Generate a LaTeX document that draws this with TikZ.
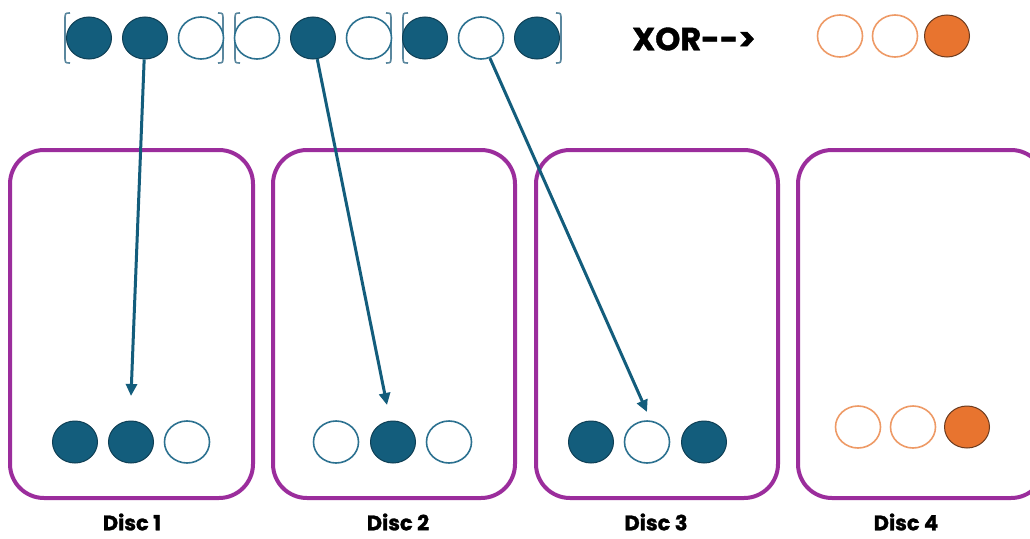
\documentclass[tikz,border=0pt]{standalone}
\usepackage{fontspec}
\newfontfamily\popb{Poppins}[BoldFeatures={FakeBold=1.2}]
\usetikzlibrary{arrows.meta,shapes.geometric}
\definecolor{bluefill}{HTML}{135D7C}
\definecolor{bluedark}{HTML}{0E3F55}
\definecolor{bluering}{HTML}{2C7190}
\definecolor{bracketc}{HTML}{5A879E}
\definecolor{orangef}{HTML}{E8742F}
\definecolor{oranger}{HTML}{EE9A66}
\definecolor{oranged}{HTML}{6B3A1E}
\definecolor{discc}{HTML}{9B2D9C}
\tikzset{
  bit/.style={ellipse,minimum width=45pt,minimum height=42pt,inner sep=0pt},
  one/.style={bit,fill=bluefill,draw=bluedark,line width=1pt},
  zero/.style={bit,fill=white,draw=bluering,line width=1.6pt},
  pone/.style={bit,fill=orangef,draw=oranged,line width=1pt},
  pzero/.style={bit,fill=white,draw=oranger,line width=1.6pt},
  disc/.style={draw=discc,line width=4pt,rounded corners=34pt},
  lbl/.style={font=\popb\bfseries\fontsize{21}{24}\selectfont,text=black,inner sep=0pt},
  brk/.style={draw=bracketc,line width=1.6pt},
  mv/.style={draw=bluefill,line width=3pt,-{Triangle[length=12pt,width=11pt]}}
}
\begin{document}
\begin{tikzpicture}[x=1pt,y=-1pt]
\clip (0,0) rectangle (1030,538);
\fill[white] (0,0) rectangle (1030,538);
% discs
\draw[disc] (10,150) rectangle (253,498);
\draw[disc] (273,150) rectangle (515,498);
\draw[disc] (536,150) rectangle (778,498);
\draw[disc] (798,150) rectangle (1045,498);
% brackets
\draw[brk] (70,13) .. controls (65,13) .. (65,20) -- (65,56) .. controls (65,63) .. (70,63);
\draw[brk] (218,13) .. controls (223,13) .. (223,20) -- (223,56) .. controls (223,63) .. (218,63);
\draw[brk] (240,13) .. controls (235,13) .. (235,20) -- (235,56) .. controls (235,63) .. (240,63);
\draw[brk] (386,13) .. controls (391,13) .. (391,20) -- (391,56) .. controls (391,63) .. (386,63);
\draw[brk] (408,13) .. controls (403,13) .. (403,20) -- (403,56) .. controls (403,63) .. (408,63);
\draw[brk] (556,13) .. controls (561,13) .. (561,20) -- (561,56) .. controls (561,63) .. (556,63);
% top row
\node[one]  (t1) at (89,38) {};
\node[one]  (t2) at (145,38) {};
\node[zero] (t3) at (201,38) {};
\node[zero] (t4) at (257,38) {};
\node[one]  (t5) at (313,38) {};
\node[zero] (t6) at (369,38) {};
\node[one]  (t7) at (425,38) {};
\node[zero] (t8) at (481,38) {};
\node[one]  (t9) at (537,38) {};
\node[font=\popb\bfseries\fontsize{32}{36}\selectfont,anchor=center] (xor) at (694,39) {XOR-{}->};
\node[pzero] (p1) at (840,36) {};
\node[pzero] (p2) at (895,36) {};
\node[pone]  (p3) at (947,36) {};
% disc contents
\node[one]  (a1) at (75,442) {};
\node[one]  (a2) at (131,442) {};
\node[zero] (a3) at (187,442) {};
\node[zero] (b1) at (336,442) {};
\node[one]  (b2) at (393,442) {};
\node[zero] (b3) at (449,442) {};
\node[one]  (c1) at (591,442) {};
\node[zero] (c2) at (647,442) {};
\node[one]  (c3) at (704,442) {};
\node[pzero] (d1) at (858,427) {};
\node[pzero] (d2) at (913,427) {};
\node[pone]  (d3) at (967,427) {};
% labels
\node[lbl] (l1) at (132,522) {Disc 1};
\node[lbl] (l2) at (398,522) {Disc 2};
\node[lbl] (l3) at (656,522) {Disc 3};
\node[lbl] (l4) at (906,522) {Disc 4};
% arrows
\coordinate (e1) at (131,396);
\coordinate (e2) at (387,405);
\coordinate (e3) at (647,412);
\draw[mv] (t2) -- (e1);
\draw[mv] (t5) -- (e2);
\draw[mv] (t8) -- (e3);
\end{tikzpicture}
\end{document}
